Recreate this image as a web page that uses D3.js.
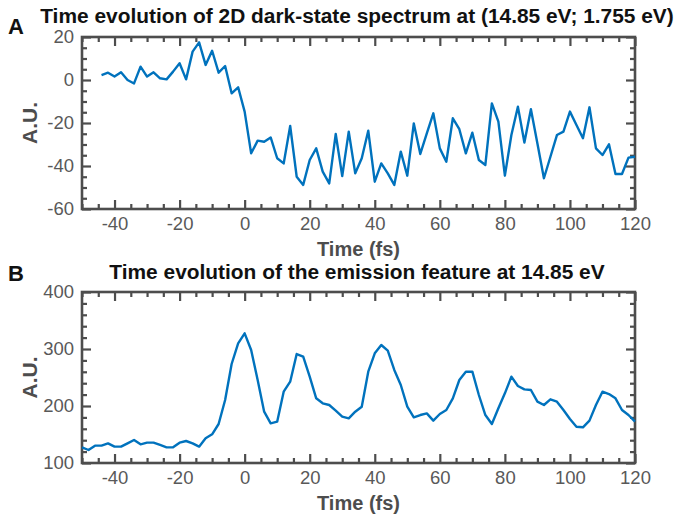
<!DOCTYPE html>
<html><head><meta charset="utf-8">
<script src="https://cdn.jsdelivr.net/npm/d3@7"></script>
<style>
html,body{margin:0;padding:0;background:#fff;}
svg{display:block;font-family:"Liberation Sans",Arial,sans-serif;}
</style></head>
<body><svg id="c" width="680" height="516"></svg>
<script>
// ---- Data ----
const timesA = [-44,-42,-40,-38,-36,-34,-32,-30,-28,-26,-24,-22,-20,-18,-16,-14,-12,-10,-8,-6,-4,-2,0,2,4,6,8,10,12,14,16,18,20,22,24,26,28,30,32,34,36,38,40,42,44,46,48,50,52,54,56,58,60,62,64,66,68,70,72,74,76,78,80,82,84,86,88,90,92,94,96,98,100,102,104,106,108,110,112,114,116,118,120];
const valuesA = [2.3,3.4,1.6,3.6,0,-1.6,6.2,1.6,3.6,0.8,0.3,3.9,7.8,0.3,13.2,17.5,7,13.6,3.4,6.5,-6.2,-3.4,-14.7,-34.1,-28.2,-28.7,-26.7,-36.4,-38.8,-21.4,-45,-48.8,-37.2,-31.8,-42.6,-48.1,-25.1,-44.7,-24,-43.4,-36.4,-23.6,-47.3,-38.8,-43.4,-48.8,-33.3,-44.5,-20.2,-34.4,-24.8,-15.5,-31.8,-38,-17.8,-22.9,-34.1,-24.5,-37.2,-39.5,-10.9,-19.4,-44.5,-25.6,-12.4,-29.1,-13.6,-29.5,-45.7,-35.7,-25.6,-24,-14.7,-20.9,-27.1,-12.7,-31.8,-34.9,-29.9,-43.7,-43.7,-36.1,-35.7];
const timesB = [-50,-48,-46,-44,-42,-40,-38,-36,-34,-32,-30,-28,-26,-24,-22,-20,-18,-16,-14,-12,-10,-8,-6,-4,-2,0,2,4,6,8,10,12,14,16,18,20,22,24,26,28,30,32,34,36,38,40,42,44,46,48,50,52,54,56,58,60,62,64,66,68,70,72,74,76,78,80,82,84,86,88,90,92,94,96,98,100,102,104,106,108,110,112,114,116,118,120];
const valuesB = [127.5,122.8,130.4,130.4,134.5,128.7,128.7,134.5,140.4,132.7,135.7,135.7,131.6,127.5,127.5,135.7,138.6,134.5,128.7,143.3,150.3,168.4,210.5,273.7,309.9,327.5,298.2,245.6,190,169.6,172.5,225.1,242.7,291.2,286.5,251.5,213.5,204.7,201.8,191.8,181.3,178.4,190,198.8,260.2,292.4,307,297.1,263.2,236.8,198.8,180.1,184.2,187.1,174.3,186,193,213.5,245.6,260.2,260.2,219.3,184.2,168.4,196,222.2,251.5,235.1,229.2,228.1,207.6,201.8,211.7,207.6,193,177.2,163.7,162.6,174.3,201.8,225.1,221,213.5,193,184.2,172.5];
const xTicks = [-40,-20,0,20,40,60,80,100,120];
const yTicksA = [-60,-40,-20,0,20];
const yTicksB = [100,200,300,400];
const titleA = "Time evolution of 2D dark-state spectrum at (14.85 eV; 1.755 eV)";
const titleB = "Time evolution of the emission feature at 14.85 eV";
const xLabel = "Time (fs)";
const yLabel = "A.U.";

// ---- Drawing ----
const svg = d3.select("#c");
const L = 82, R = 635;
const axisCol = "#4d4d4d", tickTextCol = "#595959", lineCol = "#0072BD";

function panel(o){
  const x = d3.scaleLinear().domain([-50,120]).range([L,R]);
  const y = d3.scaleLinear().domain(o.yDomain).range([o.bottom,o.top]);
  const g = svg.append("g");
  const xMinor = d3.range(-50,121,5).filter(v=>!xTicks.includes(v));
  const yMinor = d3.range(o.yDomain[0],o.yDomain[1]+0.001,o.yMinorStep).filter(v=>!o.yTicks.includes(v));
  function ax(gen, tr, vals, size, labels){
    const a = g.append("g").attr("transform",tr)
      .call(gen.tickValues(vals).tickSizeInner(-size).tickSizeOuter(0).tickPadding(labels?8:0)
        .tickFormat(labels? d=>d : ()=>""));
    a.select(".domain").remove();
    a.selectAll("line").attr("stroke",axisCol).attr("stroke-width",2.2);
    a.selectAll("text").attr("fill",tickTextCol).style("font-size","18.5px");
    return a;
  }
  ax(d3.axisBottom(x),`translate(0,${o.bottom})`,xTicks,9,true);
  ax(d3.axisBottom(x),`translate(0,${o.bottom})`,xMinor,5,false);
  ax(d3.axisTop(x),`translate(0,${o.top})`,xTicks,9,false);
  ax(d3.axisTop(x),`translate(0,${o.top})`,xMinor,5,false);
  ax(d3.axisLeft(y),`translate(${L},0)`,o.yTicks,9,true);
  ax(d3.axisLeft(y),`translate(${L},0)`,yMinor,5,false);
  ax(d3.axisRight(y),`translate(${R},0)`,o.yTicks,9,false);
  ax(d3.axisRight(y),`translate(${R},0)`,yMinor,5,false);
  g.append("rect").attr("x",L).attr("y",o.top).attr("width",R-L).attr("height",o.bottom-o.top)
    .attr("fill","none").attr("stroke",axisCol).attr("stroke-width",2.6);
  g.append("path").datum(o.times.map((t,i)=>[t,o.values[i]]))
    .attr("fill","none").attr("stroke",lineCol).attr("stroke-width",2.4).attr("stroke-linejoin","round")
    .attr("d",d3.line().x(d=>x(d[0])).y(d=>y(d[1])));
  // texts
  g.append("text").attr("x",357).attr("y",o.titleY).attr("text-anchor","middle")
    .style("font-size","20.9px").style("font-weight","bold").attr("fill","#111").text(o.title);
  g.append("text").attr("x",8).attr("y",o.letterY)
    .style("font-size","22px").style("font-weight","bold").attr("fill","#111").text(o.letter);
  g.append("text").attr("x",(L+R)/2).attr("y",o.bottom+47).attr("text-anchor","middle")
    .style("font-size","20px").style("font-weight","bold").attr("fill",axisCol).text(xLabel);
  g.append("text").attr("transform",`translate(37,${(o.top+o.bottom)/2}) rotate(-90)`).attr("text-anchor","middle")
    .style("font-size","21px").style("font-weight","bold").attr("fill",axisCol).text(yLabel);
}

panel({top:37,bottom:209,yDomain:[-60,20],yTicks:yTicksA,yMinorStep:5,times:timesA,values:valuesA,
  title:titleA,titleY:23,letter:"A",letterY:34});
panel({top:292,bottom:463,yDomain:[100,400],yTicks:yTicksB,yMinorStep:20,times:timesB,values:valuesB,
  title:titleB,titleY:279,letter:"B",letterY:281});
</script></body></html>
